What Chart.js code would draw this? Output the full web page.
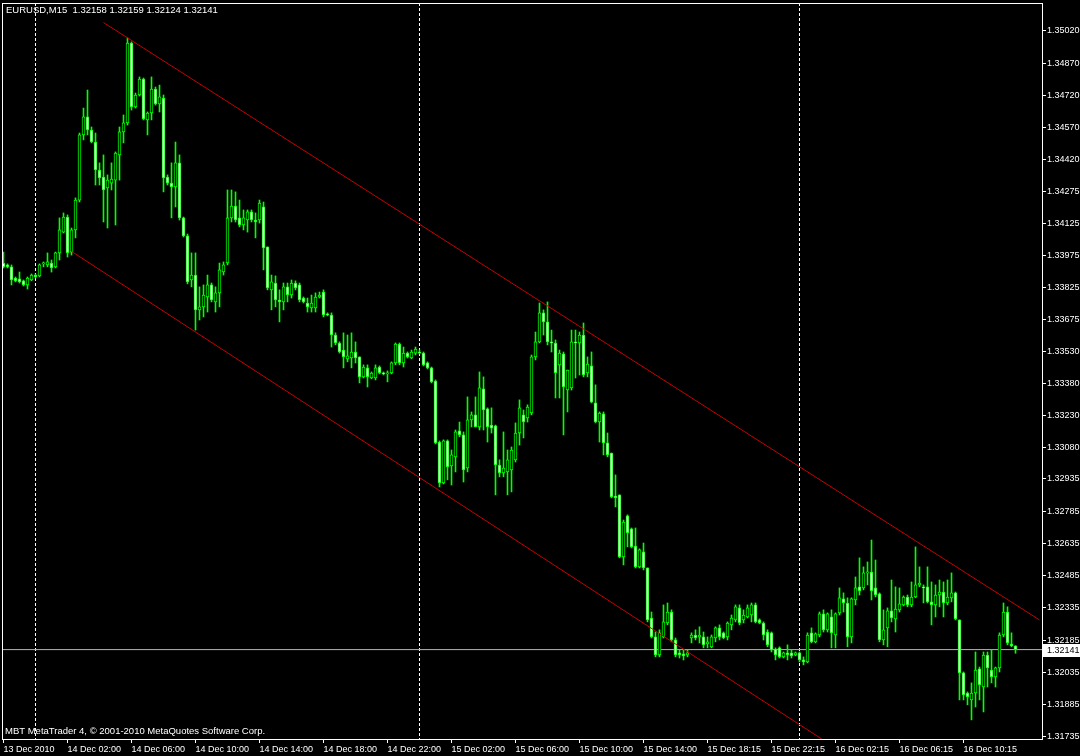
<!DOCTYPE html>
<html>
<head>
<meta charset="utf-8">
<title>EURUSD,M15</title>
<script src="https://cdn.jsdelivr.net/npm/chart.js@4.4.1/dist/chart.umd.min.js"></script>
<style>
  html, body { margin: 0; padding: 0; background: #000; }
  #wrap { width: 1080px; height: 756px; }
</style>
</head>
<body>
<div id="wrap"><canvas id="chart" width="1080" height="756"></canvas></div>
<script>
// Datos EURUSD M15 (13-16 Dic 2010)
const symbolTitle = "EURUSD,M15";
const creditText = "MBT MetaTrader 4, © 2001-2010 MetaQuotes Software Corp.";

const timeLabels = [
    "13 Dec 2010", "14 Dec 02:00", "14 Dec 06:00", "14 Dec 10:00", "14 Dec 14:00", "14 Dec 18:00",
    "14 Dec 22:00", "15 Dec 02:00", "15 Dec 06:00", "15 Dec 10:00", "15 Dec 14:00", "15 Dec 18:15",
    "15 Dec 22:15", "16 Dec 02:15", "16 Dec 06:15", "16 Dec 10:15"
];
const barsPerLabel = 16;

const priceLabels = [
    "1.35020", "1.34870", "1.34720", "1.34570", "1.34420", "1.34275", "1.34125", "1.33975",
    "1.33825", "1.33675", "1.33530", "1.33380", "1.33230", "1.33080", "1.32935", "1.32785",
    "1.32635", "1.32485", "1.32335", "1.32185", "1.32035", "1.31885", "1.31735"
];

const opens = [
    1.33940,1.33931,1.33922,1.33870,1.33866,1.33857,1.33838,1.33861,1.33884,1.33880,
    1.33936,1.33931,1.33940,1.33922,1.33987,1.34084,1.34154,1.33991,1.34094,1.34233,
    1.34536,1.34620,1.34559,1.34503,1.34373,1.34340,1.34289,1.34312,1.34326,1.34443,
    1.34550,1.34592,1.34964,1.34666,1.34722,1.34796,1.34606,1.34638,1.34750,1.34680,
    1.34708,1.34340,1.34312,1.34294,1.34406,1.34150,1.34066,1.33861,1.33884,1.33722,
    1.33736,1.33782,1.33838,1.33759,1.33801,1.33898,1.33940,1.34150,1.34205,1.34150,
    1.34117,1.34140,1.34178,1.34140,1.34140,1.34201,1.34015,1.33815,1.33847,1.33768,
    1.33759,1.33829,1.33791,1.33847,1.33838,1.33777,1.33754,1.33731,1.33731,1.33782,
    1.33805,1.33703,1.33698,1.33605,1.33568,1.33535,1.33494,1.33498,1.33526,1.33503,
    1.33410,1.33452,1.33405,1.33405,1.33456,1.33428,1.33424,1.33428,1.33475,1.33563,
    1.33475,1.33521,1.33498,1.33521,1.33526,1.33521,1.33475,1.33452,1.33391,1.33107,
    1.32917,1.33112,1.32996,1.33038,1.33159,1.33140,1.32986,1.33210,1.33233,1.33177,
    1.33354,1.33261,1.33186,1.33182,1.33000,1.32963,1.32968,1.32977,1.33024,1.33149,
    1.33233,1.33219,1.33242,1.33503,1.33573,1.33708,1.33666,1.33573,1.33568,1.33466,
    1.33517,1.33349,1.33359,1.33573,1.33568,1.33605,1.33428,1.33461,1.33289,1.33200,
    1.33238,1.33103,1.33056,1.32856,1.32861,1.32572,1.32763,1.32703,1.32623,1.32526,
    1.32596,1.32521,1.32288,1.32200,1.32116,1.32200,1.32265,1.32316,1.32186,1.32126,
    1.32121,1.32116,1.32195,1.32209,1.32200,1.32200,1.32167,1.32154,1.32195,1.32242,
    1.32219,1.32200,1.32256,1.32279,1.32335,1.32279,1.32293,1.32302,1.32349,1.32279,
    1.32265,1.32223,1.32219,1.32144,1.32149,1.32107,1.32126,1.32126,1.32116,1.32126,
    1.32093,1.32084,1.32219,1.32177,1.32209,1.32307,1.32233,1.32293,1.32209,1.32312,
    1.32377,1.32358,1.32200,1.32372,1.32433,1.32428,1.32498,1.32502,1.32428,1.32400,
    1.32186,1.32242,1.32321,1.32284,1.32326,1.32349,1.32386,1.32349,1.32386,1.32442,
    1.32433,1.32433,1.32363,1.32349,1.32395,1.32409,1.32358,1.32382,1.32405,1.32279,
    1.32033,1.31939,1.31907,1.31939,1.32051,1.31967,1.32116,1.32046,1.32014,1.32056,
    1.32209,1.32316,1.32167,1.32158
];
const highs = [
    1.33991,1.33936,1.33931,1.33875,1.33898,1.33861,1.33875,1.33889,1.33889,1.33936,
    1.33945,1.33987,1.33954,1.33991,1.34150,1.34173,1.34164,1.34103,1.34243,1.34545,
    1.34661,1.34745,1.34573,1.34545,1.34406,1.34443,1.34350,1.34406,1.34457,1.34573,
    1.34629,1.34987,1.34969,1.34731,1.34806,1.34801,1.34643,1.34806,1.34759,1.34768,
    1.34722,1.34350,1.34406,1.34503,1.34443,1.34154,1.34075,1.33987,1.33987,1.33829,
    1.33838,1.33884,1.33847,1.33829,1.33940,1.33945,1.34280,1.34280,1.34271,1.34233,
    1.34187,1.34187,1.34187,1.34173,1.34233,1.34224,1.34015,1.33884,1.33880,1.33815,
    1.33847,1.33847,1.33861,1.33857,1.33847,1.33782,1.33777,1.33791,1.33801,1.33805,
    1.33815,1.33708,1.33708,1.33615,1.33573,1.33615,1.33605,1.33615,1.33573,1.33503,
    1.33466,1.33466,1.33433,1.33466,1.33461,1.33433,1.33438,1.33480,1.33568,1.33568,
    1.33549,1.33526,1.33535,1.33549,1.33535,1.33526,1.33480,1.33456,1.33396,1.33112,
    1.33117,1.33117,1.33070,1.33163,1.33200,1.33154,1.33317,1.33247,1.33317,1.33433,
    1.33410,1.33266,1.33266,1.33186,1.33024,1.33154,1.33070,1.33084,1.33196,1.33303,
    1.33256,1.33280,1.33512,1.33619,1.33754,1.33722,1.33759,1.33628,1.33582,1.33535,
    1.33526,1.33442,1.33628,1.33628,1.33619,1.33661,1.33503,1.33526,1.33373,1.33247,
    1.33247,1.33149,1.33056,1.32954,1.32861,1.32744,1.32768,1.32707,1.32707,1.32610,
    1.32637,1.32521,1.32316,1.32223,1.32233,1.32349,1.32358,1.32326,1.32195,1.32140,
    1.32140,1.32140,1.32219,1.32233,1.32247,1.32223,1.32200,1.32209,1.32247,1.32256,
    1.32223,1.32270,1.32302,1.32349,1.32349,1.32326,1.32349,1.32358,1.32358,1.32284,
    1.32270,1.32233,1.32223,1.32149,1.32154,1.32130,1.32163,1.32140,1.32130,1.32130,
    1.32107,1.32219,1.32242,1.32219,1.32316,1.32326,1.32312,1.32326,1.32312,1.32428,
    1.32405,1.32382,1.32382,1.32479,1.32568,1.32526,1.32549,1.32651,1.32558,1.32405,
    1.32326,1.32335,1.32465,1.32433,1.32428,1.32391,1.32395,1.32456,1.32619,1.32526,
    1.32442,1.32526,1.32456,1.32442,1.32465,1.32456,1.32465,1.32498,1.32409,1.32279,
    1.32037,1.31944,1.31986,1.32130,1.32060,1.32130,1.32130,1.32140,1.32060,1.32219,
    1.32358,1.32340,1.32219,1.32159
];
const lows = [
    1.33917,1.33917,1.33838,1.33852,1.33847,1.33833,1.33819,1.33857,1.33870,1.33875,
    1.33922,1.33922,1.33898,1.33917,1.33954,1.34080,1.33968,1.33977,1.34057,1.34224,
    1.34513,1.34536,1.34499,1.34303,1.34303,1.34131,1.34103,1.34280,1.34117,1.34326,
    1.34499,1.34582,1.34652,1.34661,1.34717,1.34606,1.34536,1.34606,1.34675,1.34643,
    1.34271,1.34303,1.34150,1.34201,1.34140,1.34061,1.33843,1.33829,1.33628,1.33675,
    1.33689,1.33712,1.33759,1.33712,1.33736,1.33884,1.33931,1.34131,1.34131,1.34108,
    1.34094,1.34084,1.34131,1.34057,1.34126,1.33908,1.33815,1.33722,1.33736,1.33666,
    1.33722,1.33759,1.33777,1.33815,1.33759,1.33754,1.33712,1.33712,1.33712,1.33777,
    1.33689,1.33694,1.33549,1.33559,1.33521,1.33452,1.33480,1.33452,1.33475,1.33382,
    1.33405,1.33363,1.33401,1.33396,1.33424,1.33419,1.33387,1.33424,1.33466,1.33466,
    1.33456,1.33498,1.33494,1.33512,1.33517,1.33461,1.33447,1.33382,1.33098,1.32898,
    1.32912,1.32931,1.32907,1.32968,1.33131,1.32921,1.32968,1.33177,1.33177,1.33163,
    1.33163,1.33107,1.33149,1.32861,1.32945,1.32945,1.32861,1.32875,1.33014,1.33093,
    1.33126,1.33200,1.33233,1.33489,1.33568,1.33605,1.33559,1.33526,1.33312,1.33312,
    1.33140,1.33247,1.33349,1.33405,1.33419,1.33410,1.33410,1.33289,1.33196,1.33107,
    1.33047,1.33038,1.32847,1.32805,1.32568,1.32535,1.32619,1.32614,1.32521,1.32521,
    1.32512,1.32270,1.32195,1.32107,1.32107,1.32195,1.32256,1.32177,1.32107,1.32102,
    1.32093,1.32107,1.32172,1.32186,1.32172,1.32149,1.32149,1.32149,1.32177,1.32186,
    1.32191,1.32186,1.32233,1.32270,1.32256,1.32265,1.32288,1.32270,1.32265,1.32261,
    1.32186,1.32154,1.32130,1.32093,1.32102,1.32102,1.32093,1.32102,1.32112,1.32084,
    1.32070,1.32079,1.32172,1.32172,1.32200,1.32223,1.32223,1.32149,1.32149,1.32302,
    1.32316,1.32154,1.32172,1.32349,1.32395,1.32419,1.32442,1.32372,1.32386,1.32177,
    1.32163,1.32154,1.32270,1.32223,1.32316,1.32344,1.32340,1.32340,1.32382,1.32433,
    1.32358,1.32358,1.32256,1.32293,1.32340,1.32293,1.32349,1.32363,1.32279,1.31907,
    1.31907,1.31884,1.31814,1.31874,1.31907,1.31851,1.31967,1.31986,1.31967,1.32037,
    1.32200,1.32163,1.32154,1.32124
];
const closes = [
    1.33922,1.33922,1.33861,1.33857,1.33852,1.33838,1.33870,1.33884,1.33875,1.33931,
    1.33940,1.33945,1.33917,1.33987,1.34094,1.34154,1.33987,1.34094,1.34233,1.34536,
    1.34620,1.34559,1.34503,1.34373,1.34336,1.34280,1.34326,1.34331,1.34452,1.34550,
    1.34592,1.34964,1.34666,1.34722,1.34796,1.34610,1.34638,1.34750,1.34680,1.34713,
    1.34336,1.34312,1.34294,1.34406,1.34150,1.34066,1.33852,1.33884,1.33722,1.33736,
    1.33791,1.33838,1.33768,1.33801,1.33908,1.33931,1.34150,1.34205,1.34140,1.34117,
    1.34150,1.34178,1.34140,1.34131,1.34219,1.34010,1.33824,1.33852,1.33768,1.33759,
    1.33829,1.33791,1.33847,1.33824,1.33768,1.33759,1.33736,1.33754,1.33782,1.33791,
    1.33698,1.33698,1.33605,1.33568,1.33526,1.33503,1.33508,1.33526,1.33498,1.33410,
    1.33456,1.33410,1.33428,1.33452,1.33428,1.33424,1.33428,1.33475,1.33563,1.33475,
    1.33521,1.33503,1.33526,1.33540,1.33521,1.33466,1.33452,1.33387,1.33103,1.32917,
    1.33112,1.32991,1.33047,1.33154,1.33140,1.32977,1.33210,1.33233,1.33177,1.33359,
    1.33256,1.33177,1.33172,1.33000,1.32963,1.32986,1.33024,1.33070,1.33149,1.33266,
    1.33200,1.33270,1.33503,1.33573,1.33708,1.33666,1.33573,1.33568,1.33428,1.33521,
    1.33363,1.33442,1.33573,1.33568,1.33605,1.33419,1.33470,1.33293,1.33200,1.33242,
    1.33103,1.33047,1.32851,1.32847,1.32572,1.32735,1.32684,1.32619,1.32526,1.32605,
    1.32521,1.32279,1.32200,1.32116,1.32219,1.32270,1.32316,1.32186,1.32116,1.32116,
    1.32112,1.32126,1.32209,1.32195,1.32209,1.32163,1.32177,1.32200,1.32242,1.32200,
    1.32195,1.32265,1.32288,1.32340,1.32265,1.32302,1.32335,1.32349,1.32270,1.32265,
    1.32209,1.32163,1.32140,1.32116,1.32107,1.32126,1.32116,1.32112,1.32126,1.32093,
    1.32084,1.32209,1.32177,1.32214,1.32307,1.32233,1.32307,1.32219,1.32307,1.32382,
    1.32358,1.32200,1.32377,1.32428,1.32414,1.32498,1.32502,1.32414,1.32395,1.32186,
    1.32233,1.32321,1.32288,1.32330,1.32354,1.32386,1.32349,1.32386,1.32442,1.32451,
    1.32428,1.32363,1.32349,1.32395,1.32409,1.32358,1.32386,1.32405,1.32284,1.32033,
    1.31930,1.31921,1.31939,1.32046,1.31977,1.32116,1.32056,1.32014,1.32056,1.32209,
    1.32316,1.32172,1.32158,1.32141
];

// Separadores de día (índice de barra) y canal equidistante (barra, precio)
const separatorBars = [8, 104, 199];
const channelUpper = [{ x: 25, y: 1.35059 }, { x: 259, y: 1.32279 }];
const channelLower = [{ x: 17, y: 1.33994 }, { x: 210, y: 1.31659 }];

// Rango visible de la ventana
const X_MIN = -0.375, X_MAX = 259.625;
const Y_MIN = 1.31725, Y_MAX = 1.35150;

const candleColor = "#00ff00";
const last = closes.length - 1;

// Plugin para fondo, marco y textos estilo MetaTrader
const mt4Decor = {
    id: "mt4Decor",
    beforeDraw(chart) {
        const ctx = chart.ctx;
        ctx.save();
        ctx.fillStyle = "#000000";
        ctx.fillRect(0, 0, chart.width, chart.height);
        ctx.restore();
    },
    afterDraw(chart) {
        const ctx = chart.ctx;
        const ca = chart.chartArea;
        ctx.save();
        ctx.strokeStyle = "#ffffff";
        ctx.lineWidth = 1;
        ctx.strokeRect(ca.left + 0.5, ca.top + 0.5, ca.right - ca.left, ca.bottom - ca.top);

        ctx.fillStyle = "#ffffff";
        ctx.font = "9.5px 'Liberation Sans', Arial, sans-serif";
        ctx.textBaseline = "middle";
        ctx.textAlign = "left";
        const ohlc = [opens[last], highs[last], lows[last], closes[last]].map(v => v.toFixed(5)).join(" ");
        ctx.fillText(symbolTitle + "  " + ohlc, 6, 10.5);
        ctx.fillText(creditText, 5, 731);

        // Etiqueta del precio actual en el eje
        const py = chart.scales.y.getPixelForValue(closes[last]);
        ctx.fillStyle = "#ffffff";
        ctx.fillRect(ca.right + 1, Math.round(py) - 6, chart.width - ca.right - 1, 13);
        ctx.fillStyle = "#000000";
        ctx.font = "9px 'Liberation Sans', Arial, sans-serif";
        ctx.fillText(closes[last].toFixed(5), ca.right + 5, Math.round(py) + 0.5);
        ctx.restore();
    }
};

function buildChart() {
    const ctx = document.getElementById("chart");
    Chart.defaults.font.family = "'Liberation Sans', Arial, sans-serif";

    const bodies = closes.map((c, i) => ({ x: i, y: [opens[i], c] }));
    const wicks = highs.map((h, i) => ({ x: i, y: [lows[i], h] }));
    const bodyFill = closes.map((c, i) => (c >= opens[i] ? "#000000" : "#ffffff"));
    const separators = separatorBars.flatMap(b => [
        { x: b, y: Y_MAX }, { x: b, y: Y_MIN }, { x: b, y: null }
    ]);
    const priceLine = [{ x: X_MIN, y: closes[last] }, { x: X_MAX, y: closes[last] }];

    new Chart(ctx, {
        type: "bar",
        data: {
            datasets: [
                {
                    type: "line", label: "separadores", data: separators,
                    borderColor: "#ffffff", borderWidth: 1, borderDash: [3, 2],
                    pointRadius: 0, spanGaps: false, fill: false, order: 5
                },
                {
                    type: "line", label: "precio", data: priceLine,
                    borderColor: "#b4b4b4", borderWidth: 1, pointRadius: 0, fill: false, order: 4
                },
                {
                    type: "bar", label: "mechas", data: wicks,
                    backgroundColor: candleColor, borderWidth: 0,
                    barThickness: 1, grouped: false, order: 3
                },
                {
                    type: "bar", label: "velas", data: bodies,
                    backgroundColor: bodyFill, borderColor: candleColor, borderWidth: 1,
                    borderSkipped: false, barThickness: 3, minBarLength: 1, grouped: false, order: 2
                },
                {
                    type: "line", label: "canal superior", data: channelUpper,
                    borderColor: "#c80000", borderWidth: 1, pointRadius: 0, fill: false, order: 1
                },
                {
                    type: "line", label: "canal inferior", data: channelLower,
                    borderColor: "#c80000", borderWidth: 1, pointRadius: 0, fill: false, order: 1
                }
            ]
        },
        options: {
            responsive: false,
            animation: false,
            events: [],
            layout: { padding: { left: 2, top: 3, right: 0, bottom: 0 }, autoPadding: false },
            plugins: { legend: { display: false }, tooltip: { enabled: false } },
            scales: {
                x: {
                    type: "linear", min: X_MIN, max: X_MAX, offset: false,
                    afterFit: s => { s.height = 17; s.paddingLeft = 0; s.paddingRight = 0; },
                    afterBuildTicks: s => { s.ticks = timeLabels.map((_, k) => ({ value: k * barsPerLabel })); },
                    ticks: {
                        callback: (v, i) => timeLabels[i],
                        color: "#ffffff", font: { size: 9 }, align: "start",
                        maxRotation: 0, minRotation: 0, autoSkip: false, padding: 1
                    },
                    grid: { display: true, offset: false, drawOnChartArea: false, drawTicks: true, tickLength: 4, color: "#ffffff" },
                    border: { display: false }
                },
                y: {
                    position: "right", min: Y_MIN, max: Y_MAX,
                    afterFit: s => { s.width = 38; s.paddingTop = 0; s.paddingBottom = 0; },
                    afterBuildTicks: s => { s.ticks = priceLabels.map(p => ({ value: parseFloat(p) })); },
                    ticks: {
                        callback: (v, i) => priceLabels[i],
                        color: "#ffffff", font: { size: 9 }, padding: 1, autoSkip: false
                    },
                    grid: { drawOnChartArea: false, drawTicks: true, tickLength: 4, color: "#ffffff" },
                    border: { display: false }
                }
            }
        },
        plugins: [mt4Decor]
    });
}

window.addEventListener("load", buildChart);
</script>
</body>
</html>
